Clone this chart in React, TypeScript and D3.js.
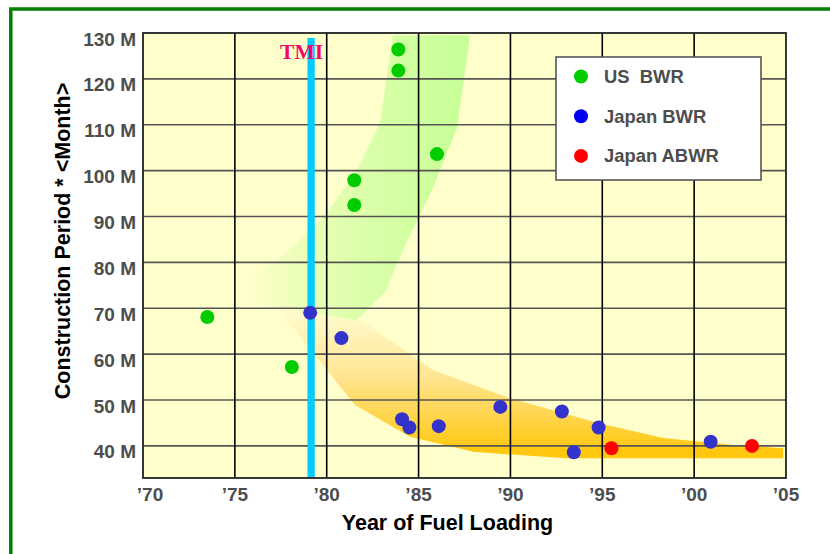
import React from "react";
import * as d3 from "d3";

// ---- data ----
const usBwrYear = [1973.5, 1978.1, 1981.5, 1981.5, 1983.9, 1983.9, 1986.0];
const usBwrMonths = [68.1, 57.2, 97.9, 92.5, 126.4, 121.8, 103.6];

const japanBwrYear = [1979.1, 1980.8, 1984.1, 1984.5, 1986.1, 1989.45, 1992.8, 1993.45, 1994.8, 2000.9];
const japanBwrMonths = [69.0, 63.5, 45.8, 44.0, 44.3, 48.5, 47.5, 38.6, 44.0, 40.9];

const japanAbwrYear = [1995.5, 2003.15];
const japanAbwrMonths = [39.5, 40.0];

const tmiYear = 1979.15;

// shaded trend bands (year, months)
const usBandYear = [1983.6, 1987.8, 1987.1, 1985.8, 1984.15, 1983.17, 1981.54, 1977.46, 1974.46, 1976.53, 1978.38, 1980.02, 1981.65, 1982.9];
const usBandMonths = [129.5, 129.5, 109.5, 96.4, 82.7, 73.5, 67.0, 69.6, 74.4, 78.3, 84.2, 90.8, 100.1, 110.4];

const jpBandYear = [1977.28, 1981.98, 1985.79, 1989.98, 1994.88, 1998.32, 2002.13, 2004.85, 2004.85, 1993.06, 1987.98, 1984.53, 1981.54];
const jpBandMonths = [70.3, 67.1, 56.5, 50.4, 44.9, 41.7, 40.2, 39.5, 37.3, 37.3, 38.7, 42.0, 48.9];

const yTicks = [40, 50, 60, 70, 80, 90, 100, 110, 120, 130];
const yTickLabels = ["40 M", "50 M", "60 M", "70 M", "80 M", "90 M", "100 M", "110 M", "120 M", "130 M"];
const xTicks = [1970, 1975, 1980, 1985, 1990, 1995, 2000, 2005];
const xTickLabels = ["\u201970", "\u201975", "\u201980", "\u201985", "\u201990", "\u201995", "\u201900", "\u201905"];

const legendNames = ["US  BWR", "Japan BWR", "Japan ABWR"];
const legendColors = ["#00CC00", "#0000EE", "#FF0000"];

export default function App() {
  const W = 830, H = 554;
  const left = 143, right = 786, top = 33, bottom = 478;
  const x = d3.scaleLinear().domain([1970, 2005]).range([left, right]);
  const y = d3.scaleLinear().domain([33, 130]).range([bottom, top]);

  const poly = (xs: number[], ys: number[]) =>
    d3.line<number>().x((d) => x(d)).y((_, i) => y(ys[i]))(xs) + "Z";

  const tickFont = "'Liberation Sans', Arial, sans-serif";

  const dots = (xs: number[], ys: number[], color: string, key: string) =>
    xs.map((v, i) => (
      <circle key={key + i} cx={x(v)} cy={y(ys[i])} r={7} fill={color} />
    ));

  return (
    <svg width={W} height={H} style={{ position: "absolute", left: 0, top: 0, background: "#fff" }}>
      <defs>
        <linearGradient id="gband" gradientUnits="userSpaceOnUse" x1={245} y1={0} x2={450} y2={0}>
          <stop offset="0" stopColor="#FFFFCC" />
          <stop offset="0.35" stopColor="#E6FFB4" />
          <stop offset="1" stopColor="#C9FF99" />
        </linearGradient>
        <linearGradient id="oband" gradientUnits="userSpaceOnUse" x1={0} y1={315} x2={0} y2={452}>
          <stop offset="0" stopColor="#FFFACC" />
          <stop offset="0.45" stopColor="#FFE592" />
          <stop offset="1" stopColor="#FFC70D" />
        </linearGradient>
      </defs>

      {/* outer frame */}
      <rect x={10.8} y={9} width={900} height={900} fill="none" stroke="#008000" strokeWidth={3.5} />

      {/* plot background */}
      <rect x={left} y={top} width={right - left} height={bottom - top} fill="#FFFFCC" />

      {/* bands */}
      <path d={poly(usBandYear, usBandMonths)} fill="url(#gband)" />
      <path d={poly(jpBandYear, jpBandMonths)} fill="url(#oband)" />

      {/* horizontal grid */}
      {yTicks.filter((v) => v < 130).map((v) => (
        <line key={"h" + v} x1={left} x2={right} y1={y(v)} y2={y(v)} stroke="#555" strokeWidth={1.6} />
      ))}
      {/* vertical grid */}
      {xTicks.filter((v) => v > 1970 && v < 2005).map((v) => (
        <line key={"v" + v} x1={x(v)} x2={x(v)} y1={top} y2={bottom} stroke="#000" strokeWidth={1.6} />
      ))}
      {/* border */}
      <rect x={left} y={top} width={right - left} height={bottom - top} fill="none" stroke="#222" strokeWidth={1.8} />

      {/* TMI line */}
      <line x1={x(tmiYear)} x2={x(tmiYear)} y1={38} y2={477} stroke="#00CCFF" strokeWidth={7.3} />
      <text x={x(tmiYear) + 12} y={58.5} textAnchor="end" fontFamily="'Liberation Serif', 'Times New Roman', serif"
        fontWeight="bold" fontSize={21.5} fill="#F0086A">TMI</text>

      {/* points */}
      {dots(usBwrYear, usBwrMonths, "#00CC00", "us")}
      {dots(japanBwrYear, japanBwrMonths, "#3333CC", "jb")}
      {dots(japanAbwrYear, japanAbwrMonths, "#FF0000", "ja")}

      {/* y tick labels */}
      {yTicks.map((v, i) => (
        <text key={"yl" + v} x={136} y={y(v) + 12.5} textAnchor="end" fontFamily={tickFont}
          fontWeight="bold" fontSize={19} fill="#4D4D4D">{yTickLabels[i]}</text>
      ))}
      {/* x tick labels */}
      {xTicks.map((v, i) => (
        <text key={"xl" + v} x={x(v) + (i === 0 ? 7 : 0)} y={501} textAnchor="middle" fontFamily={tickFont}
          fontWeight="bold" fontSize={19} fill="#4D4D4D">{xTickLabels[i]}</text>
      ))}

      {/* axis titles */}
      <text x={447.5} y={529.5} textAnchor="middle" fontFamily={tickFont} fontWeight="bold" fontSize={21.5} fill="#000">
        Year of Fuel Loading
      </text>
      <text transform={`translate(70,241) rotate(-90)`} textAnchor="middle" fontFamily={tickFont} fontWeight="bold"
        fontSize={21.5} fill="#000">
        Construction Period * &lt;Month&gt;
      </text>

      {/* legend */}
      <rect x={556} y={57} width={205} height={123} fill="#fff" stroke="#555" strokeWidth={1.6} />
      {legendNames.map((n, i) => (
        <g key={"lg" + i}>
          <circle cx={581} cy={76.5 + i * 39.7} r={7} fill={legendColors[i]} />
          <text x={604} y={83.3 + i * 39.5} fontFamily={tickFont} fontWeight="bold" fontSize={18.4} fill="#4D4D4D"
            style={{ whiteSpace: "pre" }}>{n}</text>
        </g>
      ))}
    </svg>
  );
}
